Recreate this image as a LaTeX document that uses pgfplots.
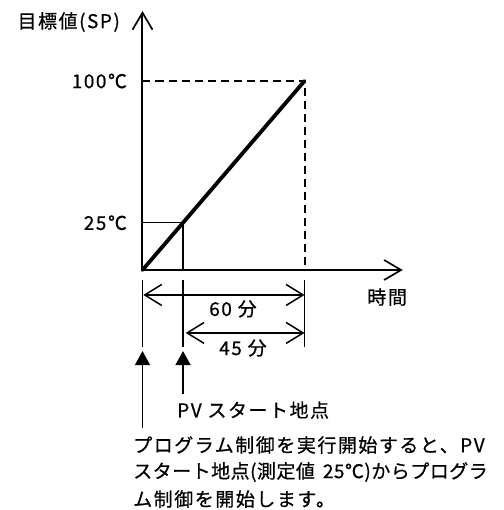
\documentclass[border=0pt]{standalone}
\usepackage{fontspec}
\setmainfont[LetterSpace=8, FakeBold=0.6]{Noto Sans CJK JP}
\usepackage{pgfplots}
\pgfplotsset{compat=1.18}
\usetikzlibrary{arrows.meta}

\newcommand{\jfont}{\fontsize{19pt}{23pt}\selectfont}

\begin{document}
\begin{tikzpicture}[font=\jfont]
\useasboundingbox (-142.5pt,-240pt) rectangle (360.5pt,270pt);
\begin{axis}[
  x=2.7pt, y=1.89pt,
  xmin=0, xmax=96.4, ymin=0, ymax=137,
  axis x line=bottom, axis y line=left,
  axis line style={line width=2pt, -{Straight Barb[length=17pt,width=20pt,line width=1.7pt]}},
  xtick=\empty,
  ytick={25,100}, yticklabels={25℃,100℃},
  major tick length=0pt,
  yticklabel style={font=\jfont, xshift=-12pt},
  clip=false,
]
% SP ramp from 0 to 100 C over 60 min
\addplot[black, line width=3.8pt, line cap=round] coordinates {(0,0)(60,100)};
% guide lines at 100 C / 60 min
\addplot[black, line width=2pt, dash pattern=on 8pt off 5pt] coordinates {(0,100)(60,100)(60,0)};
% PV start point box (25 C)
\addplot[black, line width=1.4pt] coordinates {(0,25)(15,25)(15,0)};

% dimension lines
\draw[line width=1.6pt] (axis cs:0,-5.3) -- (axis cs:0,-40.7);
\draw[line width=1.6pt] (axis cs:15,-5.3) -- (axis cs:15,-40.7);
\draw[line width=1.6pt] (axis cs:60,-5.3) -- (axis cs:60,-40.7);
\draw[line width=1.5pt, {Straight Barb[length=17pt,width=21pt]}-{Straight Barb[length=17pt,width=21pt]}]
  (axis cs:0.3,-13.2) -- (axis cs:60,-13.2);
\draw[line width=1.5pt, {Straight Barb[length=17pt,width=21pt]}-{Straight Barb[length=17pt,width=21pt]}]
  (axis cs:16,-33.3) -- (axis cs:60,-33.3);
\node at (axis cs:33.5,-20.6) {60 分};
\node at (axis cs:37.2,-41.3) {45 分};

% start arrows
\draw[line width=1.6pt, -{Triangle[length=14pt,width=15pt]}] (axis cs:0,-83.6) -- (axis cs:0,-42.9);
\draw[line width=1.6pt, -{Triangle[length=14pt,width=15pt]}] (axis cs:15,-65.6) -- (axis cs:15,-42.9);
\node[anchor=west, inner sep=0pt] at (axis cs:12.8,-74.1) {PV スタート地点};
\node[anchor=west, inner sep=0pt] at (axis cs:-3.5,-92.6) {プログラム制御を実行開始すると、PV};
\node[anchor=west, inner sep=0pt] at (axis cs:-3.5,-106.9) {\addfontfeature{LetterSpace=2.5}スタート地点(測定値\hspace{8pt}25℃)からプログラ};
\node[anchor=west, inner sep=0pt] at (axis cs:-3.5,-121.2) {ム制御を開始します。};

% axis titles
\node[anchor=east, inner sep=0pt] at (axis cs:-8.3,131.2) {目標値(SP)};
\node at (axis cs:90.6,-14.3) {時間};
\end{axis}
\end{tikzpicture}
\end{document}
